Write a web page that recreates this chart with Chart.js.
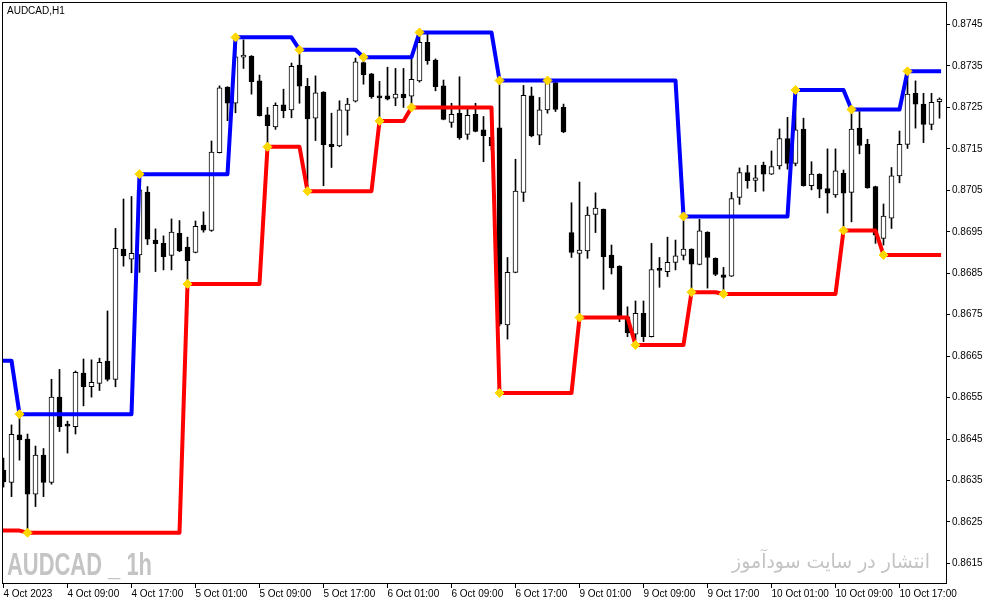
<!DOCTYPE html>
<html>
<head>
<meta charset="utf-8">
<script src="https://cdn.jsdelivr.net/npm/chart.js@4.4.1/dist/chart.umd.min.js"></script>
<style>
  html, body { margin: 0; padding: 0; background: #fff; }
  #wrap { width: 987px; height: 605px; }
</style>
</head>
<body>
<div id="wrap"><canvas id="chart" width="987" height="605"></canvas></div>
<script>
// time axis: one tick every 8 hourly bars
const tickBars = [0, 8, 16, 24, 32, 40, 48, 56, 64, 72, 80, 88, 96, 104, 112];
const tickLabels = ['4 Oct 2023', '4 Oct 09:00', '4 Oct 17:00', '5 Oct 01:00', '5 Oct 09:00',
  '5 Oct 17:00', '6 Oct 01:00', '6 Oct 09:00', '6 Oct 17:00', '9 Oct 01:00', '9 Oct 09:00',
  '9 Oct 17:00', '10 Oct 01:00', '10 Oct 09:00', '10 Oct 17:00'];
const priceTicks = [0.8615, 0.8625, 0.8635, 0.8645, 0.8655, 0.8665, 0.8675,
  0.8685, 0.8695, 0.8705, 0.8715, 0.8725, 0.8735, 0.8745];

// AUDCAD H1 candles, bar 0 .. 117
const opens = [
  0.86375, 0.86345, 0.86460, 0.86450, 0.86317, 0.86411, 0.86345, 0.86551, 0.86482, 0.86480,
  0.86609, 0.86576, 0.86584, 0.86638, 0.86594, 0.86908, 0.86884, 0.86894, 0.87046, 0.86930,
  0.86922, 0.86893, 0.86946, 0.86913, 0.86900, 0.86966, 0.86953, 0.87141, 0.87299, 0.87260,
  0.87371, 0.87374, 0.87314, 0.87232, 0.87203, 0.87256, 0.87244, 0.87352, 0.87301, 0.87224,
  0.87287, 0.87161, 0.87157, 0.87243, 0.87265, 0.87358, 0.87331, 0.87274, 0.87278, 0.87272,
  0.87282, 0.87277, 0.87314, 0.87407, 0.87364, 0.87302, 0.87214, 0.87236, 0.87185, 0.87233,
  0.87196, 0.87178, 0.87201, 0.86725, 0.86852, 0.87045, 0.87278, 0.87183, 0.87244, 0.87310,
  0.87250, 0.86948, 0.86898, 0.86904, 0.86992, 0.87004, 0.86894, 0.86867, 0.86745, 0.86703,
  0.86753, 0.86697, 0.86858, 0.86854, 0.86876, 0.86893, 0.86908, 0.86871, 0.86949, 0.86886,
  0.86846, 0.86843, 0.87033, 0.87093, 0.87074, 0.87111, 0.87089, 0.87109, 0.87175, 0.87115,
  0.87198, 0.87061, 0.87089, 0.87054, 0.87039, 0.87091, 0.87045, 0.87200, 0.87161, 0.87059,
  0.86934, 0.86983, 0.87085, 0.87161, 0.87284, 0.87258, 0.87209, 0.87264];
const highs = [
  0.86404, 0.86484, 0.86510, 0.86462, 0.86433, 0.86427, 0.86594, 0.86618, 0.86493, 0.86614,
  0.86643, 0.86641, 0.86645, 0.86759, 0.86958, 0.87029, 0.87035, 0.87089, 0.87059, 0.86957,
  0.86940, 0.86981, 0.86977, 0.86937, 0.86976, 0.86998, 0.87169, 0.87302, 0.87300, 0.87419,
  0.87413, 0.87375, 0.87328, 0.87250, 0.87261, 0.87294, 0.87357, 0.87389, 0.87320, 0.87326,
  0.87288, 0.87236, 0.87266, 0.87272, 0.87369, 0.87371, 0.87332, 0.87313, 0.87347, 0.87344,
  0.87344, 0.87366, 0.87431, 0.87427, 0.87367, 0.87316, 0.87260, 0.87324, 0.87249, 0.87260,
  0.87228, 0.87205, 0.87315, 0.86888, 0.87125, 0.87303, 0.87299, 0.87274, 0.87315, 0.87311,
  0.87258, 0.87020, 0.87070, 0.87010, 0.87044, 0.87005, 0.86918, 0.86868, 0.86769, 0.86783,
  0.86783, 0.86922, 0.86888, 0.86937, 0.86930, 0.86987, 0.86909, 0.86980, 0.86950, 0.86887,
  0.86864, 0.87045, 0.87104, 0.87110, 0.87110, 0.87118, 0.87145, 0.87198, 0.87226, 0.87292,
  0.87224, 0.87119, 0.87090, 0.87150, 0.87150, 0.87099, 0.87245, 0.87240, 0.87173, 0.87060,
  0.87017, 0.87105, 0.87193, 0.87337, 0.87314, 0.87284, 0.87284, 0.87273];
const lows = [
  0.86334, 0.86311, 0.86399, 0.86228, 0.86287, 0.86311, 0.86341, 0.86468, 0.86416, 0.86462,
  0.86530, 0.86551, 0.86567, 0.86590, 0.86576, 0.86867, 0.86851, 0.86852, 0.86919, 0.86854,
  0.86858, 0.86858, 0.86902, 0.86824, 0.86899, 0.86949, 0.86951, 0.87140, 0.87218, 0.87237,
  0.87344, 0.87282, 0.87229, 0.87155, 0.87197, 0.87225, 0.87225, 0.87260, 0.87048, 0.87170,
  0.87061, 0.87105, 0.87155, 0.87183, 0.87263, 0.87306, 0.87272, 0.87217, 0.87268, 0.87254,
  0.87250, 0.87250, 0.87311, 0.87354, 0.87290, 0.87220, 0.87202, 0.87173, 0.87173, 0.87191,
  0.87119, 0.87147, 0.86723, 0.86691, 0.86851, 0.87023, 0.87179, 0.87160, 0.87236, 0.87240,
  0.87189, 0.86888, 0.86742, 0.86886, 0.86948, 0.86811, 0.86848, 0.86733, 0.86697, 0.86689,
  0.86685, 0.86696, 0.86816, 0.86842, 0.86858, 0.86882, 0.86804, 0.86870, 0.86814, 0.86844,
  0.86800, 0.86842, 0.87016, 0.87055, 0.87047, 0.87048, 0.87088, 0.87101, 0.87101, 0.87109,
  0.87060, 0.87051, 0.87032, 0.86995, 0.87033, 0.86953, 0.86974, 0.87138, 0.87055, 0.86922,
  0.86918, 0.86958, 0.87068, 0.87151, 0.87200, 0.87165, 0.87196, 0.87224];
const closes = [
  0.86347, 0.86461, 0.86448, 0.86317, 0.86411, 0.86345, 0.86551, 0.86480, 0.86481, 0.86611,
  0.86576, 0.86587, 0.86635, 0.86594, 0.86910, 0.86892, 0.86898, 0.87051, 0.86932, 0.86921,
  0.86890, 0.86949, 0.86904, 0.86880, 0.86963, 0.86954, 0.87142, 0.87297, 0.87260, 0.87372,
  0.87376, 0.87312, 0.87230, 0.87206, 0.87255, 0.87242, 0.87349, 0.87301, 0.87222, 0.87285,
  0.87160, 0.87155, 0.87244, 0.87258, 0.87360, 0.87329, 0.87276, 0.87273, 0.87270, 0.87282,
  0.87273, 0.87318, 0.87407, 0.87363, 0.87300, 0.87221, 0.87233, 0.87177, 0.87231, 0.87192,
  0.87182, 0.87157, 0.86727, 0.86852, 0.87048, 0.87279, 0.87181, 0.87244, 0.87311, 0.87245,
  0.87191, 0.86900, 0.86906, 0.86990, 0.87007, 0.86890, 0.86863, 0.86745, 0.86706, 0.86753,
  0.86697, 0.86859, 0.86857, 0.86876, 0.86892, 0.86908, 0.86872, 0.86952, 0.86888, 0.86847,
  0.86840, 0.87030, 0.87093, 0.87073, 0.87080, 0.87089, 0.87107, 0.87175, 0.87115, 0.87196,
  0.87061, 0.87089, 0.87053, 0.87043, 0.87097, 0.87043, 0.87198, 0.87158, 0.87056, 0.86942,
  0.86988, 0.87085, 0.87161, 0.87282, 0.87258, 0.87209, 0.87262, 0.87270];

// channel lines (upper = blue, lower = red), given at the bars where they turn
const upperBars = [-0.5, 1, 2, 16, 17, 28, 29, 36, 37, 44, 45, 51, 52, 61, 62, 84, 85, 98, 99, 105, 106, 112, 113, 117.2];
const upperVals = [0.86639, 0.86639, 0.86510, 0.86510, 0.87089, 0.87089, 0.87419, 0.87419,
  0.87389, 0.87389, 0.87371, 0.87371, 0.87431, 0.87431, 0.87315, 0.87315, 0.86987, 0.86987,
  0.87292, 0.87292, 0.87245, 0.87245, 0.87337, 0.87337];
const lowerBars = [-0.5, 2, 3, 22, 23, 32, 33, 37, 38, 46, 47, 50, 51, 61, 62, 71, 72, 78, 79,
  85, 86, 89, 90, 104, 105, 109, 110, 117.2];
const lowerVals = [0.86229, 0.86229, 0.86224, 0.86224, 0.86824, 0.86824, 0.87155, 0.87155,
  0.87048, 0.87048, 0.87217, 0.87217, 0.87250, 0.87250, 0.86561, 0.86561, 0.86743, 0.86743,
  0.86677, 0.86677, 0.86804, 0.86804, 0.86800, 0.86800, 0.86953, 0.86953, 0.86894, 0.86894];

// yellow diamonds where a new level starts
const upMarkBars = [2, 17, 29, 37, 45, 52, 62, 68, 85, 99, 106, 113];
const upMarkVals = [0.86510, 0.87089, 0.87419, 0.87389, 0.87371, 0.87431, 0.87315, 0.87315,
  0.86987, 0.87292, 0.87245, 0.87337];
const lowMarkBars = [3, 23, 33, 38, 47, 51, 62, 72, 79, 86, 90, 105, 110];
const lowMarkVals = [0.86224, 0.86824, 0.87155, 0.87048, 0.87217, 0.87250, 0.86561, 0.86743,
  0.86677, 0.86804, 0.86800, 0.86953, 0.86894];

const symbolText = 'AUDCAD _ 1h';
const siteText = 'انتشار در سایت سودآموز';
const titleText = 'AUDCAD,H1';

const bodies = opens.map((o, i) => ({ x: i, y: [o, closes[i]] }));
const wicks = lows.map((l, i) => ({ x: i, y: [l, highs[i]] }));
const bodyColors = opens.map((o, i) => closes[i] >= o ? '#ffffff' : '#000000');
const pts = (xs, ys) => xs.map((x, i) => ({ x: x, y: ys[i] }));

const decor = {
  id: 'decor',
  beforeDatasetsDraw(chart) {
    const ctx = chart.ctx;
    ctx.save();
    ctx.fillStyle = '#c4c4c4';
    ctx.textBaseline = 'alphabetic';
    // narrow bold watermark: squeeze a bold face to the width seen in the picture
    ctx.font = 'bold 32px "Liberation Sans", sans-serif';
    let w = ctx.measureText(symbolText).width;
    ctx.save();
    ctx.translate(7, 575);
    ctx.scale(145 / w, 1);
    ctx.fillText(symbolText, 0, 0);
    ctx.restore();

    ctx.font = '20px "DejaVu Sans", sans-serif';
    ctx.direction = 'rtl';
    w = ctx.measureText(siteText).width;
    ctx.save();
    ctx.translate(930, 568);
    ctx.scale(198 / w, 1);
    ctx.textAlign = 'right';
    ctx.fillText(siteText, 0, 0);
    ctx.restore();
    ctx.restore();
  },
  afterDraw(chart) {
    const { ctx, chartArea: a } = chart;
    ctx.save();
    ctx.strokeStyle = '#000';
    ctx.lineWidth = 1;
    ctx.strokeRect(a.left + 0.5, a.top + 0.5, a.right - a.left, a.bottom - a.top);
    ctx.fillStyle = '#000';
    ctx.font = '10px "Liberation Sans", sans-serif';
    ctx.textBaseline = 'alphabetic';
    ctx.fillText(titleText, 7, 14);
    ctx.restore();
  }
};

Chart.defaults.font.family = '"Liberation Sans", sans-serif';
Chart.defaults.font.size = 10;
Chart.defaults.color = '#000';

new Chart(document.getElementById('chart'), {
  type: 'bar',
  data: {
    datasets: [
      {
        type: 'line', data: pts(upMarkBars, upMarkVals), showLine: false,
        pointStyle: 'rectRot', pointRadius: 4.5, pointBackgroundColor: '#ffd700',
        pointBorderColor: '#ffd700', pointBorderWidth: 1, order: 0
      },
      {
        type: 'line', data: pts(lowMarkBars, lowMarkVals), showLine: false,
        pointStyle: 'rectRot', pointRadius: 4.5, pointBackgroundColor: '#ffd700',
        pointBorderColor: '#ffd700', pointBorderWidth: 1, order: 0
      },
      {
        type: 'line', data: pts(upperBars, upperVals), borderColor: '#0000ff', borderWidth: 4,
        pointRadius: 0, tension: 0, fill: false, borderJoinStyle: 'round', clip: 0, order: 1
      },
      {
        type: 'line', data: pts(lowerBars, lowerVals), borderColor: '#ff0000', borderWidth: 4,
        pointRadius: 0, tension: 0, fill: false, borderJoinStyle: 'round', clip: 0, order: 1
      },
      {
        data: bodies, backgroundColor: bodyColors, borderColor: '#000', borderWidth: 1,
        borderSkipped: false, barThickness: 5, minBarLength: 2, grouped: false, order: 2
      },
      {
        data: wicks, backgroundColor: '#000', borderWidth: 0,
        barThickness: 1, grouped: false, order: 3
      }
    ]
  },
  options: {
    responsive: false,
    animation: false,
    events: [],
    layout: { autoPadding: false, padding: { left: 2, top: 2, right: 0, bottom: 0 } },
    plugins: { legend: { display: false }, tooltip: { enabled: false } },
    scales: {
      x: {
        type: 'linear', min: -0.1875, max: 117.8125, offset: false,
        grid: { drawOnChartArea: false, drawTicks: true, tickLength: 5, color: '#000', offset: false },
        border: { display: false },
        afterBuildTicks: s => { s.ticks = tickBars.map(v => ({ value: v })); },
        afterFit: s => { s.height = 22; s.paddingLeft = 0; s.paddingRight = 0; },
        ticks: {
          autoSkip: false, maxRotation: 0, align: 'start', padding: 0, color: '#000',
          callback: v => tickLabels[tickBars.indexOf(v)]
        }
      },
      y: {
        type: 'linear', position: 'right', min: 0.861026, max: 0.875043,
        grid: { drawOnChartArea: false, drawTicks: true, tickLength: 4, color: '#000' },
        border: { display: false },
        afterBuildTicks: s => { s.ticks = priceTicks.map(v => ({ value: v })); },
        afterFit: s => { s.width = 41; s.paddingTop = 0; s.paddingBottom = 0; },
        ticks: { padding: 2, color: '#000', callback: v => v.toFixed(4) }
      }
    }
  },
  plugins: [decor]
});
</script>
</body>
</html>
